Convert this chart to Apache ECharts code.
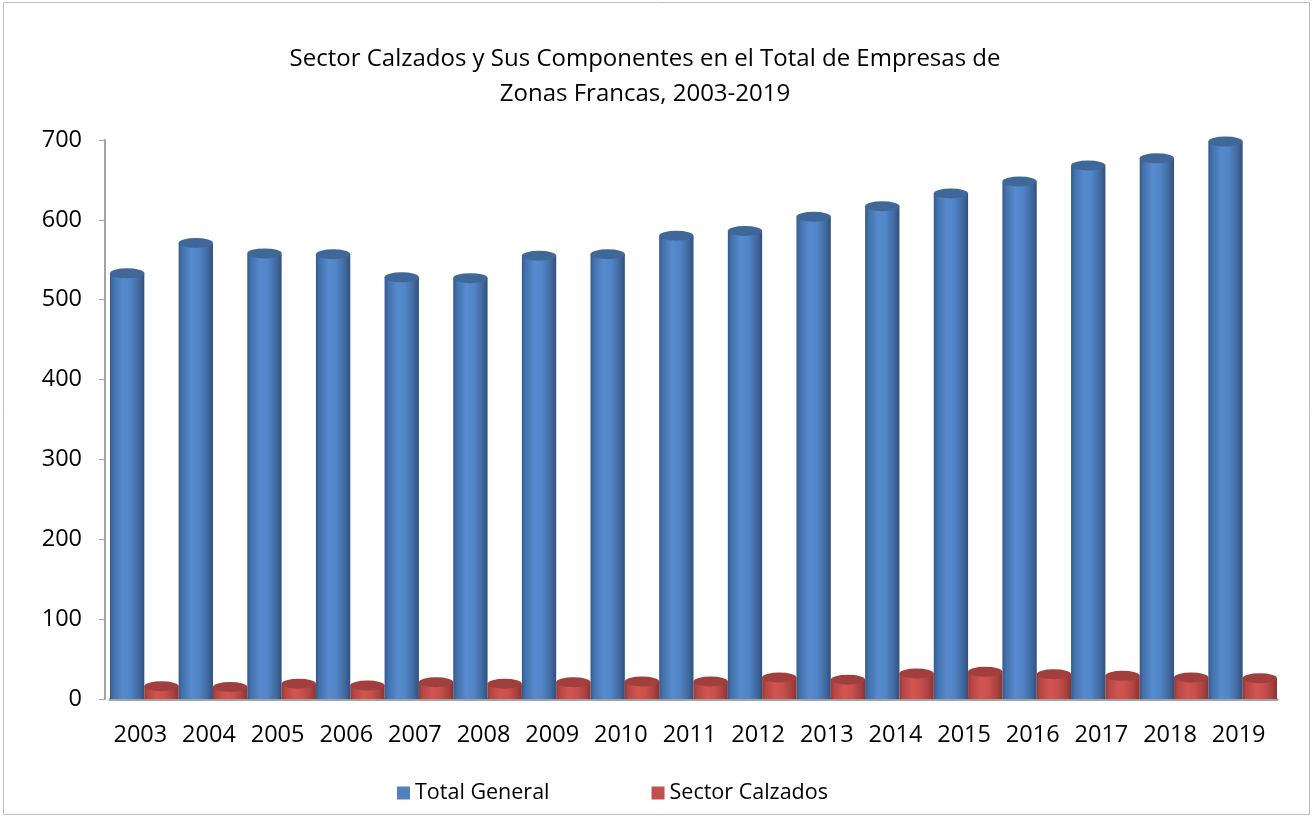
<!DOCTYPE html>
<html>
<head>
<meta charset="utf-8">
<script src="https://cdn.jsdelivr.net/npm/echarts@6/dist/echarts.min.js"></script>
<style>
html,body{margin:0;padding:0;background:#fff;}
#chart{width:1312px;height:817px;}
</style>
</head>
<body>
<div id="chart"></div>
<script>
const years = ['2003','2004','2005','2006','2007','2008','2009','2010','2011','2012','2013','2014','2015','2016','2017','2018','2019'];
const totalGeneral = [533, 571, 558, 557, 528, 527, 555, 557, 580, 586, 604, 617, 633, 648, 668, 677, 698];
const sectorCalzados = [16, 15, 19, 17, 21, 19, 21, 22, 22, 27, 24, 32, 34, 31, 29, 27, 26];
const yTicks = [0, 100, 200, 300, 400, 500, 600, 700];
const seriesNames = ['Total General', 'Sector Calzados'];
const titleText = 'Sector Calzados y Sus Componentes en el Total de Empresas de\nZonas Francas, 2003-2019';

const FONT = '"Open Sans", "Noto Sans", sans-serif';

function grad(stops) {
  return new echarts.graphic.LinearGradient(0, 0, 1, 0, stops.map(s => ({offset: s[0], color: s[1]})));
}
const blueBody = grad([[0,'#35598a'],[0.1,'#4271ab'],[0.38,'#578bcf'],[0.6,'#5085c7'],[0.85,'#41699f'],[1,'#30507c']]);
const redBody = grad([[0,'#963a38'],[0.1,'#b44744'],[0.38,'#d3544f'],[0.6,'#c9504c'],[0.85,'#a8423f'],[1,'#8a3432']]);

const chart = echarts.init(document.getElementById('chart'), null, {renderer: 'canvas'});
chart.setOption({
  backgroundColor: '#ffffff',
  animation: false,
  title: {
    text: titleText,
    left: 640,
    top: 37,
    textAlign: 'center',
    textStyle: {fontFamily: FONT, fontSize: 24, fontWeight: 'normal', color: '#000', lineHeight: 35}
  },
  legend: {
    left: 392,
    top: 777,
    itemGap: 102,
    itemWidth: 13,
    itemHeight: 13,
    icon: 'rect',
    textStyle: {fontFamily: FONT, fontSize: 21.5, color: '#000'},
    data: [
      {name: seriesNames[0], itemStyle: {color: '#4f81bd'}},
      {name: seriesNames[1], itemStyle: {color: '#c0504d'}}
    ]
  },
  graphic: [{
    type: 'rect', silent: true, z: -1,
    shape: {x: 3.5, y: 2.5, width: 1306, height: 812},
    style: {fill: 'none', stroke: '#bfbfbf', lineWidth: 1}
  }],
  grid: {left: 110, right: 35, top: 140, bottom: 118},
  xAxis: {
    type: 'category',
    data: years,
    axisLine: {show: true, lineStyle: {color: '#a3a3a3', width: 3}},
    axisTick: {show: false},
    axisLabel: {
      interval: 0,
      hideOverlap: false,
      fontFamily: FONT, fontSize: 23.5, color: '#000', margin: 24,
      padding: [0, 8, 0, 0]
    }
  },
  yAxis: {
    type: 'value',
    min: yTicks[0],
    max: yTicks[yTicks.length - 1],
    interval: 100,
    offset: 5,
    axisLine: {show: true, lineStyle: {color: '#a3a3a3', width: 2}},
    axisTick: {show: true, length: 6, lineStyle: {color: '#a3a3a3', width: 1}},
    splitLine: {show: false},
    axisLabel: {fontFamily: FONT, fontSize: 23.5, color: '#000', margin: 23}
  },
  series: [
    {
      name: seriesNames[0], type: 'bar', data: totalGeneral,
      barGap: '0%', barCategoryGap: '0%',
      itemStyle: {color: blueBody}, z: 2
    },
    {
      name: seriesNames[1], type: 'bar', data: sectorCalzados,
      barGap: '0%', barCategoryGap: '0%',
      itemStyle: {color: redBody}, z: 2
    },
    {
      name: 'capA', type: 'pictorialBar', data: totalGeneral,
      barGap: '0%', barCategoryGap: '0%',
      symbol: 'circle', symbolSize: ['100%', 10], symbolPosition: 'end', symbolOffset: [0, '-50%'],
      itemStyle: {color: '#3f6898'}, z: 4
    },
    {
      name: 'capB', type: 'pictorialBar', data: sectorCalzados,
      barGap: '0%', barCategoryGap: '0%',
      symbol: 'circle', symbolSize: ['100%', 10], symbolPosition: 'end', symbolOffset: [0, '-50%'],
      itemStyle: {color: '#a03f3d'}, z: 4
    }
  ]
});
</script>
</body>
</html>
